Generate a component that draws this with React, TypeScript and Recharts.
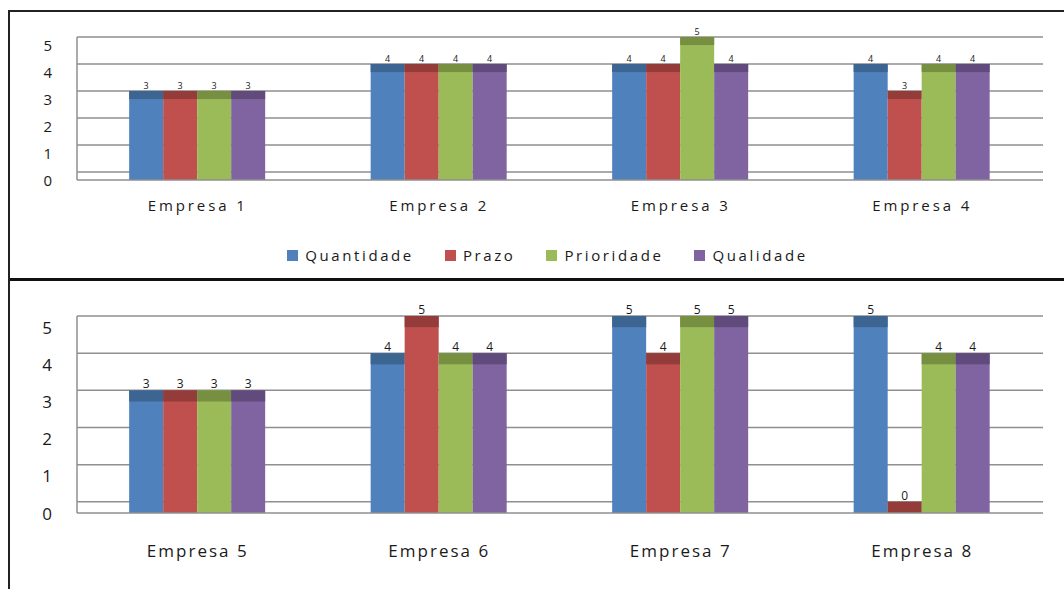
import { Bar, BarChart, CartesianGrid, LabelList, Legend, XAxis, YAxis } from "recharts";

const empresas = [
  "Empresa 1",
  "Empresa 2",
  "Empresa 3",
  "Empresa 4",
  "Empresa 5",
  "Empresa 6",
  "Empresa 7",
  "Empresa 8",
];
const quantidade = [3, 4, 4, 4, 3, 4, 5, 5];
const prazo = [3, 4, 4, 3, 3, 5, 4, 0];
const prioridade = [3, 4, 5, 4, 3, 4, 5, 4];
const qualidade = [3, 4, 4, 4, 3, 4, 5, 4];
const yTicks = [0, 1, 2, 3, 4, 5];

// floor thickness of the 3D look, in value units below zero
const FLOOR = 0.3;
const FONT = "'Open Sans', 'Liberation Sans', sans-serif";

const series = [
  { key: "quantidade", name: "Quantidade", fill: "#4F81BD", cap: "#3C6592" },
  { key: "prazo", name: "Prazo", fill: "#C0504D", cap: "#933C3A" },
  { key: "prioridade", name: "Prioridade", fill: "#9BBB59", cap: "#768F41" },
  { key: "qualidade", name: "Qualidade", fill: "#8064A2", cap: "#604B7C" },
];

function rows(from: number, to: number) {
  return empresas.slice(from, to).map((name, i) => ({
    name,
    quantidade: quantidade[from + i],
    prazo: prazo[from + i],
    prioridade: prioridade[from + i],
    qualidade: qualidade[from + i],
  }));
}

function Column(props: any) {
  const { x, y, width, height, fill, cap, depth } = props;
  if (x == null || y == null) return null;
  return (
    <g>
      <rect x={x} y={y} width={width} height={Math.max(height, 0) + depth} fill={fill} />
      <rect x={x} y={y} width={width} height={depth} fill={cap} />
    </g>
  );
}

function YTick(props: any) {
  const { x, y, payload, depth, fontSize } = props;
  return (
    <text
      x={x}
      y={y + depth}
      textAnchor="end"
      dominantBaseline="central"
      fontSize={fontSize}
      fontFamily={FONT}
      fill="#1a1a1a"
      style={{ letterSpacing: 1 }}
    >
      {payload.value}
    </text>
  );
}

function XTick(props: any) {
  const { x, y, payload, dy, fontSize, spacing } = props;
  return (
    <text
      x={x}
      y={y + dy}
      textAnchor="middle"
      dominantBaseline="central"
      fontSize={fontSize}
      fontFamily={FONT}
      fill="#1a1a1a"
      style={{ letterSpacing: spacing }}
    >
      {payload.value}
    </text>
  );
}

const order = (value: string) => series.findIndex((s) => s.name === value);

function LegendRow(props: any) {
  const payload = [...(props.payload ?? [])].sort((a: any, b: any) => order(a.value) - order(b.value));
  return (
    <div
      style={{
        display: "flex",
        justifyContent: "center",
        gap: 31,
        paddingLeft: 52,
        fontFamily: FONT,
        fontSize: 15,
        letterSpacing: 2.6,
        color: "#1a1a1a",
        lineHeight: "24px",
      }}
    >
      {payload.map((p: any) => (
        <span key={p.value} style={{ display: "flex", alignItems: "center" }}>
          <span
            style={{
              display: "inline-block",
              width: 11,
              height: 11,
              background: p.color,
              marginRight: 7,
            }}
          />
          {p.value}
        </span>
      ))}
    </div>
  );
}

function Panel({
  data,
  height,
  plotHeight,
  top,
  xAxisHeight,
  tickFont,
  labelFont,
  xTickDy,
  xSpacing,
  withLegend,
}: {
  data: any[];
  height: number;
  plotHeight: number;
  top: number;
  xAxisHeight: number;
  tickFont: number;
  labelFont: number;
  xTickDy: number;
  xSpacing: number;
  withLegend: boolean;
}) {
  const depth = (plotHeight * FLOOR) / (5 + FLOOR);
  return (
    <div style={{ position: "absolute", left: 0, top }}>
      <BarChart
        width={1064}
        height={height}
        data={data}
        margin={{ top: 37, right: 21, left: 0, bottom: withLegend ? 12 : 0 }}
        barCategoryGap="21.6%"
        barGap={0}
      >
        <CartesianGrid
          vertical={false}
          horizontalValues={yTicks}
          stroke="#8f8f8f"
          strokeWidth={1.5}
        />
        <XAxis
          dataKey="name"
          height={xAxisHeight}
          tickLine={false}
          axisLine={{ stroke: "#8f8f8f", strokeWidth: 1.5 }}
          tick={<XTick dy={xTickDy} fontSize={tickFont} spacing={xSpacing} />}
          interval={0}
        />
        <YAxis
          width={77}
          domain={[-FLOOR, 5]}
          ticks={yTicks}
          allowDataOverflow
          tickLine={false}
          tickMargin={18}
          axisLine={{ stroke: "#8f8f8f", strokeWidth: 1.5 }}
          tick={<YTick depth={depth} fontSize={tickFont} />}
        />
        {withLegend && (
          <Legend verticalAlign="bottom" height={24} content={<LegendRow />} />
        )}
        {series.map((s) => (
          <Bar
            key={s.key}
            dataKey={s.key}
            name={s.name}
            fill={s.fill}
            isAnimationActive={false}
            shape={(p: any) => <Column {...p} cap={s.cap} depth={depth} />}
          >
            <LabelList
              dataKey={s.key}
              position="top"
              offset={2}
              fontSize={labelFont}
              fontFamily={FONT}
              fill="#1a1a1a"
            />
          </Bar>
        ))}
      </BarChart>
    </div>
  );
}

export default function App() {
  return (
    <div
      style={{
        position: "fixed",
        left: 0,
        top: 0,
        width: 1064,
        height: 589,
        background: "#fff",
        overflow: "hidden",
      }}
    >
      <Panel
        data={rows(0, 4)}
        height={279}
        plotHeight={143}
        top={0}
        xAxisHeight={63}
        tickFont={15}
        labelFont={9}
        xTickDy={17}
        xSpacing={2.9}
        withLegend
      />
      <Panel
        data={rows(4, 8)}
        height={310}
        plotHeight={197}
        top={279}
        xAxisHeight={76}
        tickFont={17}
        labelFont={12}
        xTickDy={29}
        xSpacing={2}
        withLegend={false}
      />
      <div style={{ position: "absolute", left: 8, top: 10, width: 1056, height: 2, background: "#222" }} />
      <div style={{ position: "absolute", left: 8, top: 278, width: 1056, height: 3, background: "#111" }} />
      <div style={{ position: "absolute", left: 8, top: 10, width: 2, height: 579, background: "#222" }} />
    </div>
  );
}
